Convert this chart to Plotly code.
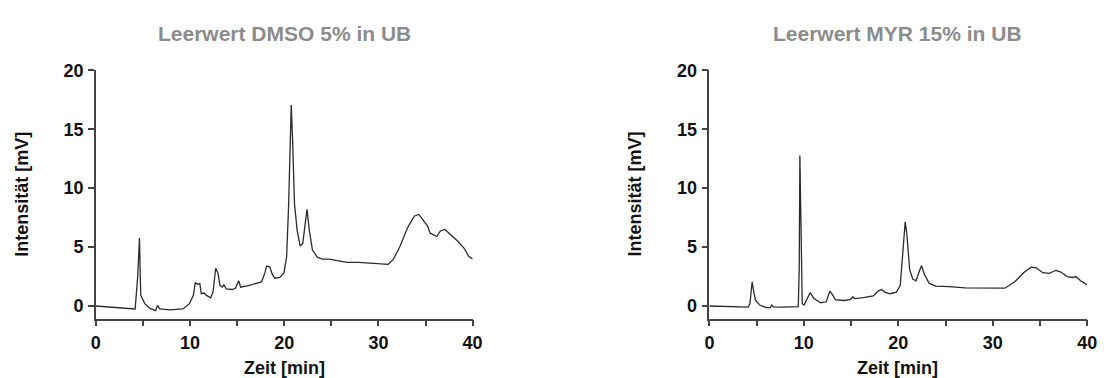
import plotly.graph_objects as go

# ---- Data ----
dmso_time = [0, 4.18, 4.45, 4.55, 4.64, 4.72, 4.78, 4.9, 5.2, 5.75, 6.35, 6.55, 6.8, 7.85, 9.25, 9.94,
             10.36, 10.57, 10.8, 11.05, 11.2, 11.5, 11.75, 12.2, 12.45, 12.73, 12.97, 13.18, 13.43, 13.6,
             13.85, 14.47, 14.82, 15.17, 15.38, 16.2, 16.9, 17.6, 17.96, 18.13, 18.48, 18.73, 19.0, 19.53,
             19.98, 20.26, 20.47, 20.64, 20.75, 20.89, 21.1, 21.38, 21.69, 21.97, 22.21, 22.42, 22.67,
             23.0, 23.54, 24.06, 24.76, 25.63, 26.68, 27.9, 29.1, 31.04, 31.56, 32.26, 33.13, 33.83,
             34.29, 34.7, 35.2, 35.5, 35.96, 36.2, 36.55, 37.07, 37.5, 38.4, 39.1, 39.6, 40.0]
dmso_int = [0, -0.25, 2.5, 4.2, 5.77, 2.5, 0.9, 0.7, 0.2, -0.2, -0.4, 0.05, -0.25, -0.33, -0.25, 0.2,
            0.9, 2.0, 1.85, 1.9, 1.05, 1.1, 0.9, 0.7, 1.2, 3.2, 2.8, 1.75, 1.6, 1.8,
            1.45, 1.4, 1.5, 2.15, 1.6, 1.73, 1.87, 2.05, 2.83, 3.38, 3.3, 2.7, 2.36, 2.42,
            2.83, 4.2, 8.6, 14.1, 17.06, 14.1, 8.6, 6.4, 5.1, 5.3, 6.7, 8.2, 6.4,
            4.75, 4.12, 3.98, 3.98, 3.87, 3.7, 3.7, 3.63, 3.54, 3.93, 5.0, 6.7, 7.64,
            7.77, 7.36, 6.8, 6.18, 6.0, 5.9, 6.35, 6.5, 6.18, 5.52, 4.9, 4.2, 4.0]

myr_time = [0, 4.11, 4.29, 4.53, 4.7, 4.88, 5.33, 6.03, 6.45, 6.6, 6.76, 7.6, 9.41, 9.51, 9.58, 9.65,
            9.72, 9.83, 10.03, 10.38, 10.66, 11.08, 11.78, 12.37, 12.75, 13.03, 13.34, 14.22, 14.91,
            15.19, 15.4, 16.3, 17.35, 17.87, 18.22, 18.57, 19.09, 19.8, 20.2, 20.5, 20.73, 20.9, 21.2,
            21.53, 21.88, 22.23, 22.47, 22.75, 23.28, 23.97, 25.37, 27.1, 29.2, 31.29, 32.33, 33.38,
            34.08, 34.6, 35.3, 36.0, 36.35, 36.7, 37.2, 37.9, 38.43, 38.78, 39.3, 40.0]
myr_int = [0, -0.1, 0.2, 2.06, 1.2, 0.5, 0.08, -0.14, -0.14, 0.08, -0.08, -0.1, -0.05, 3.2, 12.77, 9.7,
           3.2, 0.2, 0.08, 0.63, 1.13, 0.63, 0.27, 0.36, 1.26, 0.96, 0.55, 0.47, 0.55,
           0.77, 0.63, 0.71, 0.85, 1.26, 1.4, 1.18, 1.04, 1.18, 1.73, 4.75, 7.14, 6.13, 3.1,
           2.28, 2.14, 2.97, 3.43, 2.69, 1.92, 1.68, 1.65, 1.54, 1.51, 1.51, 2.06, 2.91,
           3.3, 3.24, 2.83, 2.77, 2.91, 3.02, 2.88, 2.5, 2.42, 2.5, 2.14, 1.79]

titles = ["Leerwert DMSO 5% in UB", "Leerwert MYR 15% in UB"]
x_title = "Zeit [min]"
y_title = "Intensität [mV]"
x_ticks = [0, 10, 20, 30, 40]
y_ticks = [0, 5, 10, 15, 20]

W, H = 1114, 378
FONT = "Liberation Sans, Arial, sans-serif"
AXC = "#444444"
LINEC = "#2b2b2b"

fig = go.Figure()
fig.add_trace(go.Scatter(x=dmso_time, y=dmso_int, mode="lines",
                         line=dict(color=LINEC, width=1.3), xaxis="x", yaxis="y",
                         showlegend=False, hoverinfo="skip"))
fig.add_trace(go.Scatter(x=myr_time, y=myr_int, mode="lines",
                         line=dict(color=LINEC, width=1.3), xaxis="x2", yaxis="y2",
                         showlegend=False, hoverinfo="skip"))

ydom = [1 - 317 / H, 1 - 62 / H]
xdoms = [[92 / W, 474 / W], [714 / W, 1097 / W]]

def xax(dom, anchor):
    return dict(domain=dom, anchor=anchor, range=[0, 40], tickvals=x_ticks,
                showline=True, linecolor=AXC, linewidth=1.5, ticks="outside",
                ticklen=6, tickwidth=1.5, tickcolor=AXC, showgrid=False, zeroline=False,
                tickfont=dict(family=FONT, size=18, color="#111111", weight="bold"),
                minor=dict(dtick=5, tick0=0, ticks="outside", ticklen=6, tickwidth=1.5,
                           tickcolor=AXC, showgrid=False),
                ticklabelstandoff=1)

def yax(anchor):
    return dict(domain=ydom, anchor=anchor, range=[-1.07, 20], tickvals=y_ticks,
                showline=True, linecolor=AXC, linewidth=1.5, ticks="outside",
                ticklen=6, tickwidth=1.5, tickcolor=AXC, showgrid=False, zeroline=False,
                tickfont=dict(family=FONT, size=18, color="#111111", weight="bold"),
                ticklabelstandoff=1)

fig.update_layout(
    width=W, height=H, margin=dict(l=0, r=0, t=0, b=0),
    paper_bgcolor="white", plot_bgcolor="white",
    xaxis=xax(xdoms[0], "y"), yaxis=yax("x"),
    xaxis2=xax(xdoms[1], "y2"), yaxis2=yax("x2"),
)

annots = []
title_cx = [283, 905]
ytitle_cx = [17, 639]
for i in range(2):
    annots.append(dict(text=titles[i], x=title_cx[i] / W, y=1 - 24 / H, xref="paper", yref="paper",
                       xanchor="center", yanchor="middle", showarrow=False,
                       font=dict(family=FONT, size=21, color="#8c8c8c", weight="bold")))
    annots.append(dict(text=x_title, x=title_cx[i] / W, y=1 - 368 / H, xref="paper", yref="paper",
                       xanchor="center", yanchor="middle", showarrow=False,
                       font=dict(family=FONT, size=18, color="#111111", weight="bold")))
    annots.append(dict(text=y_title, x=ytitle_cx[i] / W, y=1 - 189 / H, xref="paper", yref="paper",
                       xanchor="center", yanchor="middle", showarrow=False, textangle=-90,
                       font=dict(family=FONT, size=18, color="#111111", weight="bold")))
fig.update_layout(annotations=annots)

fig.write_html("out.html")
